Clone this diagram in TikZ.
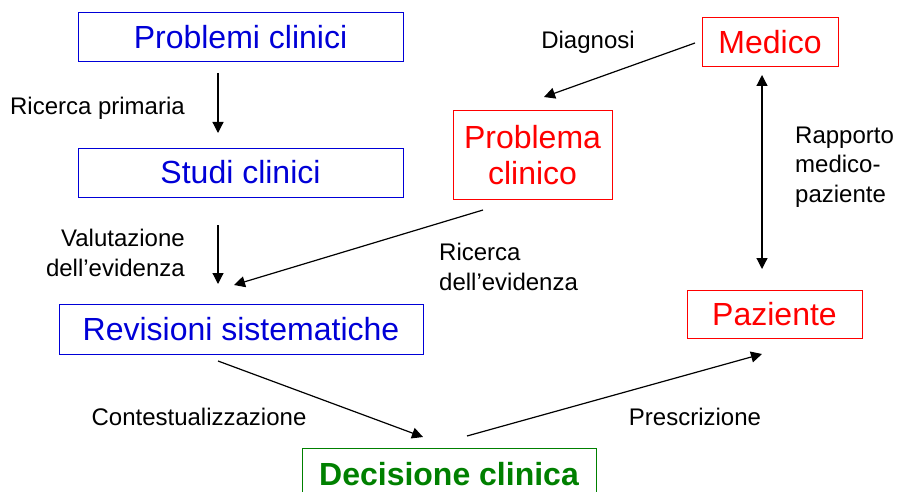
\documentclass[tikz,border=0pt]{standalone}
\usepackage{fontspec}
\setmainfont{Liberation Sans}
\usetikzlibrary{arrows.meta}
\definecolor{bblue}{RGB}{0,0,215}
\definecolor{rred}{RGB}{255,0,0}
\definecolor{ggreen}{RGB}{0,128,0}
\begin{document}
\begin{tikzpicture}[x=1pt,y=-1pt,
  bluebox/.style={draw=bblue, line width=1pt, text=bblue, font=\fontsize{32}{36}\selectfont, inner sep=0pt, minimum height=49pt},
  redbox/.style={draw=rred, line width=1pt, text=rred, font=\fontsize{32}{36}\selectfont, inner sep=0pt, align=center},
  greenbox/.style={draw=ggreen, line width=1pt, text=ggreen, font=\bfseries\fontsize{32}{36}\selectfont, inner sep=0pt},
  lbl/.style={font=\fontsize{24}{29.5}\selectfont, inner sep=0pt},
  arr/.style={line width=1.2pt, -{Triangle[length=11pt,width=11pt]}},
  darr/.style={line width=1.2pt, {Triangle[length=11pt,width=11pt]}-{Triangle[length=11pt,width=11pt]}}]
\useasboundingbox (0,0) rectangle (899,492);
% boxes
\node[bluebox, minimum width=325pt] (pc) at (240.5,37.5) {Problemi clinici};
\node[bluebox, minimum width=325pt] (sc) at (240.5,172.5) {Studi clinici};
\node[bluebox, minimum width=364pt, minimum height=50pt] (rs) at (241,329) {Revisioni sistematiche};
\node[greenbox, minimum width=294pt, minimum height=60pt, text height=23pt, text depth=9pt] (dc) at (449,478) {Decisione clinica};
\node[redbox, minimum width=136pt, minimum height=49pt] (me) at (770,42.5) {Medico};
\node[redbox, minimum width=159pt, minimum height=88pt] (pb) at (532.5,155) {Problema\\clinico};
\node[redbox, minimum width=175pt, minimum height=48pt] (pz) at (774.5,314) {Paziente};
% labels
\node[lbl, anchor=east] (l1) at (185,108) {Ricerca primaria};
\node[lbl, anchor=east, align=right] (l2) at (185,253) {Valutazione\\dell’evidenza};
\node[lbl, anchor=west, align=left] (l3) at (439,267) {Ricerca\\dell’evidenza};
\node[lbl] (l4) at (199,417) {Contestualizzazione};
\node[lbl] (l5) at (695,417) {Prescrizione};
\node[lbl] (l6) at (588,42) {Diagnosi};
\node[lbl, anchor=west, align=left] (l7) at (795,167) {Rapporto\\medico-\\paziente};
% connector end points
\coordinate (a1s) at (218,73);
\coordinate (a1e) at (218,133);
\coordinate (a2s) at (218,225);
\coordinate (a2e) at (218,284);
\coordinate (a3s) at (483,210);
\coordinate (a3e) at (234,285);
\coordinate (a4s) at (218,361);
\coordinate (a4e) at (423,437);
\coordinate (a5s) at (467,436);
\coordinate (a5e) at (762,354);
\coordinate (a6s) at (695,43);
\coordinate (a6e) at (544,97);
\coordinate (a7s) at (762,75);
\coordinate (a7e) at (762,269);
% connectors
\draw[arr] (a1s) -- (a1e);
\draw[arr] (a2s) -- (a2e);
\draw[arr] (a3s) -- (a3e);
\draw[arr] (a4s) -- (a4e);
\draw[arr] (a5s) -- (a5e);
\draw[arr] (a6s) -- (a6e);
\draw[darr] (a7s) -- (a7e);
\end{tikzpicture}
\end{document}
